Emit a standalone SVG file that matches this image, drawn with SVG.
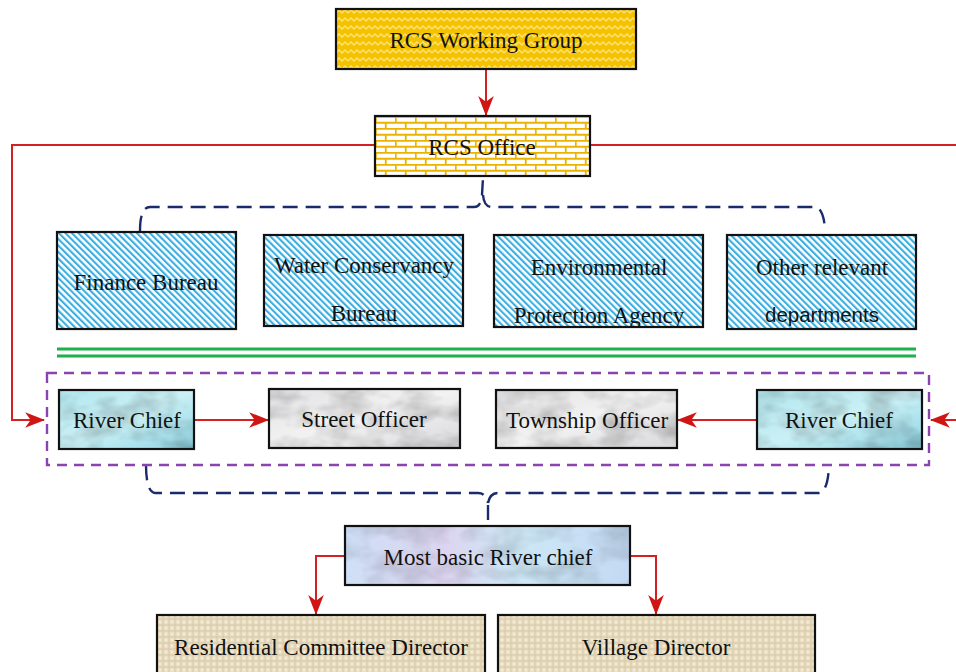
<svg xmlns="http://www.w3.org/2000/svg" width="956" height="672" viewBox="0 0 956 672">
  <defs>
    <!-- zigzag fill for the working group -->
    <pattern id="zigzag" width="12" height="8" patternUnits="userSpaceOnUse">
      <rect width="12" height="8" fill="#f4c300"/>
      <path d="M0 5 L3 2 L6 5 L9 2 L12 5" fill="none" stroke="#ffe37a" stroke-width="1.3"/>
    </pattern>
    <!-- brick fill for the office -->
    <pattern id="brick" width="20" height="12" patternUnits="userSpaceOnUse" x="375" y="116">
      <rect width="20" height="12" fill="#ffffff"/>
      <path d="M0 0.75 H20 M0 6.75 H20 M0.75 0 V6 M10.75 6 V12" fill="none" stroke="#ecb400" stroke-width="1.8"/>
    </pattern>
    <!-- diagonal hatching for the departments -->
    <pattern id="hatch" width="4.6" height="6" patternUnits="userSpaceOnUse" patternTransform="rotate(-45)">
      <rect width="4.6" height="6" fill="#ffffff"/>
      <rect width="2.1" height="6" fill="#3aaee0"/>
    </pattern>
    <!-- marble textures -->
    <filter id="marble" x="0" y="0" width="100%" height="100%">
      <feTurbulence type="fractalNoise" baseFrequency="0.03 0.05" numOctaves="3" seed="4" result="n"/>
      <feColorMatrix in="n" type="matrix" values="0 0 0 0 0  0 0 0 0 0  0 0 0 0 0  0 0 0 -1.2 0.75" result="a"/>
      <feComposite in="a" in2="SourceGraphic" operator="in"/>
    </filter>
    <linearGradient id="aqua" x1="0" y1="0" x2="1" y2="1">
      <stop offset="0" stop-color="#b3e6ee"/>
      <stop offset="0.5" stop-color="#c9f0f5"/>
      <stop offset="1" stop-color="#8fd4e4"/>
    </linearGradient>
    <linearGradient id="stone" x1="0" y1="0" x2="1" y2="1">
      <stop offset="0" stop-color="#e2e2e4"/>
      <stop offset="0.5" stop-color="#f2f2f3"/>
      <stop offset="1" stop-color="#d8d8da"/>
    </linearGradient>
    <linearGradient id="pastel" x1="0" y1="0" x2="1" y2="0">
      <stop offset="0" stop-color="#cfe0f7"/>
      <stop offset="0.35" stop-color="#dcd4f0"/>
      <stop offset="0.6" stop-color="#cde8f6"/>
      <stop offset="1" stop-color="#c3d9f3"/>
    </linearGradient>
    <!-- woven burlap fill -->
    <pattern id="burlap" width="6" height="6" patternUnits="userSpaceOnUse">
      <rect width="6" height="6" fill="#eadfc4"/>
      <path d="M0 1 H6 M1 0 V6" stroke="#d8c9a4" stroke-width="1"/>
      <rect x="3" y="3" width="2" height="2" fill="#f3ecda"/>
    </pattern>
    <marker id="arrowBig" viewBox="0 0 18 14" refX="17" refY="7" markerWidth="20" markerHeight="16" markerUnits="userSpaceOnUse" orient="auto">
      <path d="M0 0 L18 7 L0 14 L5 7 Z" fill="#d01515"/>
    </marker>
  </defs>
  <style>
    .box { stroke: #111; stroke-width: 2.2; }
    .lbl { font-family: "Liberation Serif", "Times New Roman", serif; font-size: 23px; fill: #111; text-anchor: middle; }
    .red { fill: none; stroke: #d42020; stroke-width: 2; }
    .brace { fill: none; stroke: #1b2a6b; stroke-width: 2.4; stroke-dasharray: 15 8; }
    .group { fill: none; stroke: #8a44b0; stroke-width: 2.4; stroke-dasharray: 10 7; }
    .tex { opacity: 0.35; }
  </style>

  <rect width="956" height="672" fill="#ffffff"/>

  <!-- connectors -->
  <g id="connectors">
    <line class="red" x1="486" y1="70" x2="486" y2="115" marker-end="url(#arrowBig)"/>
    <polyline class="red" points="375,145 12,145 12,420 44,420" marker-end="url(#arrowBig)"/>
    <polyline class="red" points="590,145 960,145"/>
    <line class="red" x1="960" y1="420" x2="931" y2="420" marker-end="url(#arrowBig)"/>
    <line class="red" x1="195" y1="420" x2="268" y2="420" marker-end="url(#arrowBig)"/>
    <line class="red" x1="756" y1="420" x2="678" y2="420" marker-end="url(#arrowBig)"/>
    <polyline class="red" points="345,556 316,556 316,614" marker-end="url(#arrowBig)"/>
    <polyline class="red" points="630,556 656,556 656,614" marker-end="url(#arrowBig)"/>
    <!-- braces -->
    <path class="brace" d="M140 231 Q140 207 150 207 H474 Q481 207 482 195 L483 178"/>
    <path class="brace" d="M483 195 Q484 207 492 207 H814 Q824 207 825 231"/>
    <path class="brace" d="M146 465 Q146 493 156 493 H478 Q486 493 488 503"/>
    <path class="brace" d="M488 503 Q490 493 498 493 H818 Q828 493 829 465"/>
    <line class="brace" x1="488" y1="505" x2="488" y2="525" stroke-dasharray="12 6"/>
    <!-- separator -->
    <line x1="57" y1="349" x2="916" y2="349" stroke="#1db04b" stroke-width="3"/>
    <line x1="57" y1="356" x2="916" y2="356" stroke="#1db04b" stroke-width="3"/>
    <rect class="group" x="47" y="373" width="882" height="92"/>
  </g>

  <g id="working-group">
    <rect class="box" x="336" y="9" width="300" height="60" fill="url(#zigzag)"/>
    <text class="lbl" x="486" y="48">RCS Working Group</text>
  </g>

  <g id="office">
    <rect class="box" x="375" y="116" width="215" height="60" fill="url(#brick)"/>
    <text class="lbl" x="482" y="155">RCS Office</text>
  </g>

  <g id="finance-bureau">
    <rect class="box" x="57" y="232" width="179" height="97" fill="url(#hatch)"/>
    <text class="lbl" x="146" y="290">Finance Bureau</text>
  </g>

  <g id="water-bureau">
    <rect class="box" x="264" y="235" width="199" height="91" fill="url(#hatch)"/>
    <text class="lbl" x="364" y="273">Water Conservancy</text>
    <text class="lbl" x="364" y="321">Bureau</text>
  </g>

  <g id="env-agency">
    <rect class="box" x="494" y="235" width="209" height="92" fill="url(#hatch)"/>
    <text class="lbl" x="599" y="275">Environmental</text>
    <text class="lbl" x="599" y="323">Protection Agency</text>
  </g>

  <g id="other-departments">
    <rect class="box" x="727" y="235" width="189" height="94" fill="url(#hatch)"/>
    <text class="lbl" x="822" y="275">Other relevant</text>
    <text class="lbl" x="822" y="322" style="font-family: 'Liberation Sans', Arial, sans-serif; font-size: 20.5px;">departments</text>
  </g>

  <g id="river-chief-left">
    <rect class="box" x="59" y="390" width="135" height="59" fill="url(#aqua)"/>
    <rect x="60" y="391" width="133" height="57" fill="#5fa9bd" filter="url(#marble)" class="tex"/>
    <text class="lbl" x="127" y="428">River Chief</text>
  </g>

  <g id="street-officer">
    <rect class="box" x="269" y="389" width="191" height="59" fill="url(#stone)"/>
    <rect x="270" y="390" width="189" height="57" fill="#9a9a9e" filter="url(#marble)" class="tex"/>
    <text class="lbl" x="364" y="427">Street Officer</text>
  </g>

  <g id="township-officer">
    <rect class="box" x="496" y="390" width="181" height="58" fill="url(#stone)"/>
    <rect x="497" y="391" width="179" height="56" fill="#9a9a9e" filter="url(#marble)" class="tex"/>
    <text class="lbl" x="587" y="428">Township Officer</text>
  </g>

  <g id="river-chief-right">
    <rect class="box" x="757" y="390" width="165" height="59" fill="url(#aqua)"/>
    <rect x="758" y="391" width="163" height="57" fill="#5fa9bd" filter="url(#marble)" class="tex"/>
    <text class="lbl" x="839" y="428">River Chief</text>
  </g>

  <g id="basic-river-chief">
    <rect class="box" x="345" y="526" width="285" height="59" fill="url(#pastel)"/>
    <rect x="346" y="527" width="283" height="57" fill="#b49ad0" filter="url(#marble)" opacity="0.25"/>
    <text class="lbl" x="488" y="565">Most basic River chief</text>
  </g>

  <g id="residential-director">
    <rect class="box" x="157" y="615" width="328" height="70" fill="url(#burlap)"/>
    <text class="lbl" x="321" y="655">Residential Committee Director</text>
  </g>

  <g id="village-director">
    <rect class="box" x="498" y="615" width="317" height="70" fill="url(#burlap)"/>
    <text class="lbl" x="656" y="655">Village Director</text>
  </g>
</svg>
